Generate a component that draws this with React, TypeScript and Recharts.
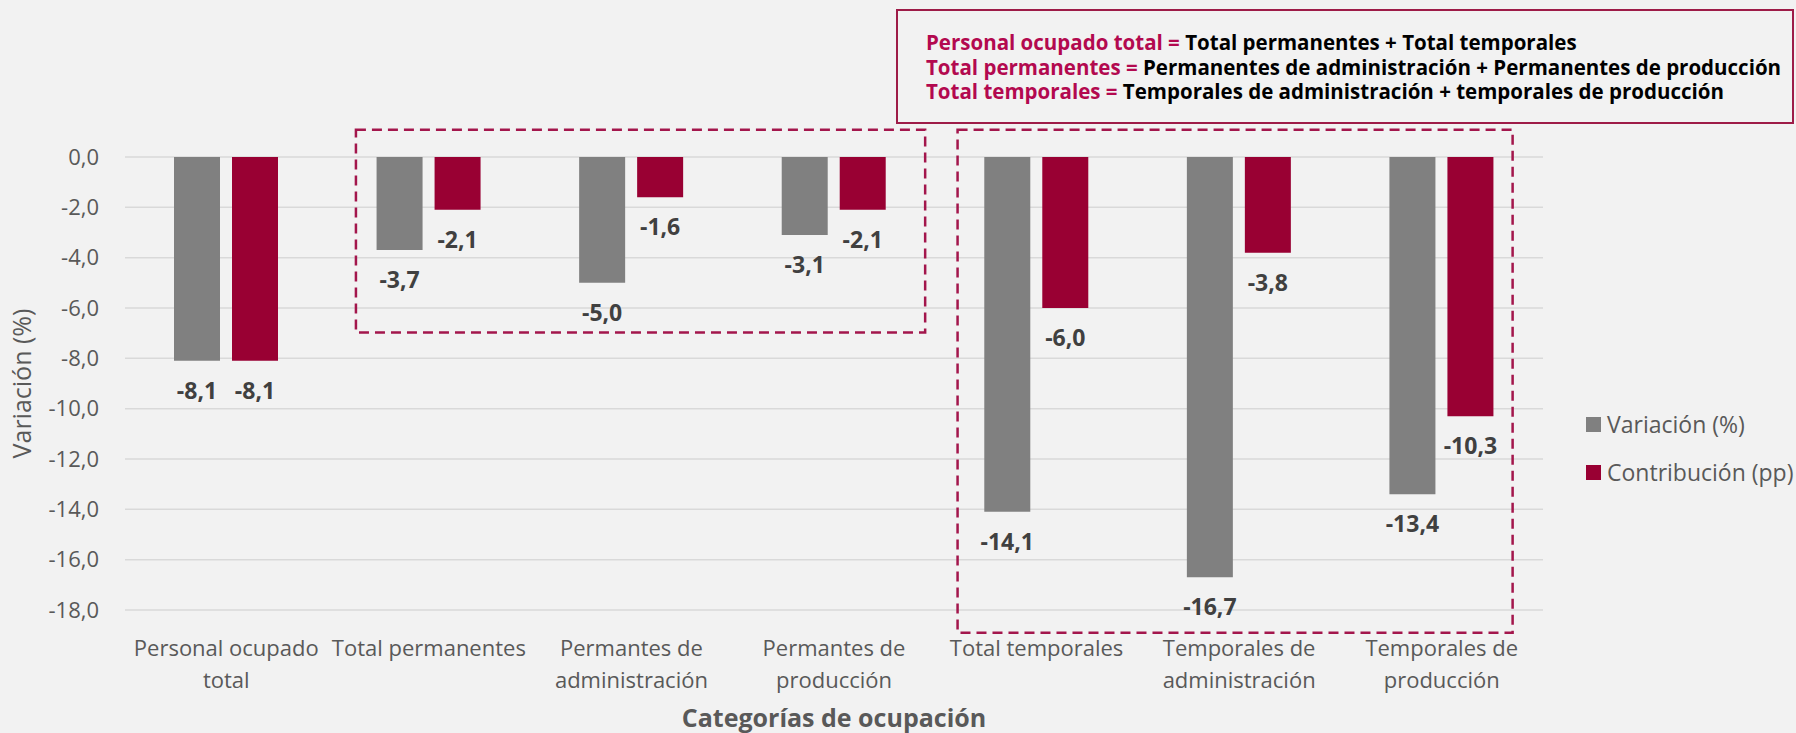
import React from "react";
import {
  BarChart,
  Bar,
  XAxis,
  YAxis,
  CartesianGrid,
  LabelList,
  Label,
  ReferenceArea,
} from "recharts";

const CATEGORIES = [
  "Personal ocupado\ntotal",
  "Total permanentes",
  "Permantes de\nadministración",
  "Permantes de\nproducción",
  "Total temporales",
  "Temporales de\nadministración",
  "Temporales de\nproducción",
];
const VARIACION = [-8.1, -3.7, -5.0, -3.1, -14.1, -16.7, -13.4];
const CONTRIBUCION = [-8.1, -2.1, -1.6, -2.1, -6.0, -3.8, -10.3];
const Y_TICKS = [0, -2, -4, -6, -8, -10, -12, -14, -16, -18];

const SERIES = [
  { key: "variacion", name: "Variación (%)", color: "#808080" },
  { key: "contribucion", name: "Contribución (pp)", color: "#990033" },
];

// dashed group frames: first/last category, inset as a share of one band, y in %
const GROUP_BOXES = [
  { from: 1, to: 3, insetL: 0.14, insetR: 0.05, top: 1.08, bottom: -6.97 },
  { from: 4, to: 6, insetL: 0.11, insetR: 0.15, top: 1.08, bottom: -18.9 },
];

const FORMULAS = [
  ["Personal ocupado total", "Total permanentes + Total temporales"],
  ["Total permanentes", "Permanentes de administración + Permanentes de producción"],
  ["Total temporales", "Temporales de administración + temporales de producción"],
];

const FONT = "'Open Sans', 'Noto Sans', sans-serif";
const AXIS_GREY = "#595959";
const FRAME = "#a3164c";

const data = CATEGORIES.map((c, i) => ({
  category: c,
  variacion: VARIACION[i],
  contribucion: CONTRIBUCION[i],
}));

const fmt = (v: number) => v.toFixed(1).replace(".", ",");

function CategoryTick({ x, y, payload }: any) {
  const lines = String(payload.value).split("\n");
  return (
    <text x={x} y={y} textAnchor="middle" fill={AXIS_GREY} fontSize={22} fontFamily={FONT}>
      {lines.map((l, i) => (
        <tspan key={i} x={x} dy={i === 0 ? 44 : 31.5}>
          {l}
        </tspan>
      ))}
    </text>
  );
}

// small marks between categories on the zero line
function DividerTick({ x, y, payload, index }: any) {
  const half = payload && payload.offset ? payload.offset : 0;
  if (!half) return null;
  const xs = [x - half];
  if (index === CATEGORIES.length - 1) xs.push(x + half);
  return (
    <g>
      {xs.map((px, i) => (
        <line key={i} x1={px} x2={px} y1={y} y2={y + 7} stroke="#d9d9d9" strokeWidth={1.5} />
      ))}
    </g>
  );
}

function BarValue({ x, y, width, height, value }: any) {
  const end = Math.max(y, y + height);
  return (
    <text
      x={x + width / 2}
      y={end + 38}
      textAnchor="middle"
      fill="#404040"
      fontSize={23}
      fontWeight={700}
      fontFamily={FONT}
    >
      {fmt(value)}
    </text>
  );
}

function makeFrame(box: (typeof GROUP_BOXES)[number]) {
  return ({ x, y, width, height }: any) => {
    const bw = width / (box.to - box.from + 1);
    const left = x + bw * box.insetL;
    const right = x + width - bw * box.insetR;
    return (
      <rect
        x={left}
        y={y}
        width={right - left}
        height={height}
        fill="none"
        stroke={FRAME}
        strokeWidth={2.5}
        strokeDasharray="10 6"
      />
    );
  };
}

export default function App() {
  return (
    <div
      style={{
        position: "absolute",
        left: 0,
        top: 0,
        width: 1796,
        height: 733,
        background: "#f2f2f2",
        fontFamily: FONT,
        overflow: "hidden",
      }}
    >
      <BarChart
        width={1796}
        height={733}
        data={data}
        margin={{ top: 157, right: 253, left: 0, bottom: 0 }}
        barSize={46}
        barGap={12}
      >
        <CartesianGrid vertical={false} stroke="#d9d9d9" strokeWidth={1.5} />
        <XAxis
          dataKey="category"
          height={123}
          axisLine={false}
          tickLine={false}
          tickSize={0}
          interval={0}
          tick={<CategoryTick />}
        >
          <Label
            content={({ viewBox }: any) => (
              <text
                x={viewBox.x + viewBox.width / 2}
                y={viewBox.y + 117}
                textAnchor="middle"
                fill={AXIS_GREY}
                fontSize={25}
                fontWeight={700}
                fontFamily={FONT}
              >
                Categorías de ocupación
              </text>
            )}
          />
        </XAxis>
        <XAxis
          xAxisId="top"
          dataKey="category"
          orientation="top"
          height={0}
          axisLine={false}
          tickLine={false}
          tickSize={0}
          tickMargin={0}
          interval={0}
          tick={<DividerTick />}
        />
        <YAxis
          width={125}
          domain={[-18, 0]}
          ticks={Y_TICKS}
          interval={0}
          axisLine={false}
          tickLine={false}
          tickSize={0}
          tickMargin={26}
          tickFormatter={fmt}
          tick={{ fill: AXIS_GREY, fontSize: 22, fontFamily: FONT }}
          allowDataOverflow
        >
          <Label
            content={({ viewBox }: any) => {
              const cy = viewBox.y + viewBox.height / 2;
              return (
                <text
                  x={31}
                  y={cy}
                  transform={`rotate(-90, 31, ${cy})`}
                  textAnchor="middle"
                  fill={AXIS_GREY}
                  fontSize={25}
                  fontFamily={FONT}
                >
                  Variación (%)
                </text>
              );
            }}
          />
        </YAxis>
        {SERIES.map((s) => (
          <Bar key={s.key} dataKey={s.key} name={s.name} fill={s.color} isAnimationActive={false}>
            <LabelList dataKey={s.key} content={<BarValue />} />
          </Bar>
        ))}
        {GROUP_BOXES.map((b, i) => (
          <ReferenceArea
            key={i}
            x1={CATEGORIES[b.from]}
            x2={CATEGORIES[b.to]}
            y1={b.top}
            y2={b.bottom}
            ifOverflow="visible"
            shape={makeFrame(b)}
          />
        ))}
      </BarChart>

      {/* legend */}
      <div style={{ position: "absolute", left: 1586, top: 400 }}>
        {SERIES.map((s) => (
          <div key={s.key} style={{ display: "flex", alignItems: "center", height: 48 }}>
            <span style={{ width: 15, height: 15, background: s.color, marginRight: 6 }} />
            <span style={{ fontSize: 23, color: AXIS_GREY, whiteSpace: "nowrap" }}>{s.name}</span>
          </div>
        ))}
      </div>

      {/* formula note */}
      <div
        style={{
          position: "absolute",
          left: 896,
          top: 9,
          width: 898,
          height: 115,
          boxSizing: "border-box",
          border: "2px solid #9e1c48",
          padding: "19px 0 0 28px",
          fontSize: 20.5,
          fontWeight: 700,
          lineHeight: "24.5px",
          color: "#000",
          whiteSpace: "nowrap",
        }}
      >
        {FORMULAS.map(([lhs, rhs], i) => (
          <div key={i}>
            <span style={{ color: "#b3094f" }}>{lhs} = </span>
            {rhs}
          </div>
        ))}
      </div>
    </div>
  );
}
